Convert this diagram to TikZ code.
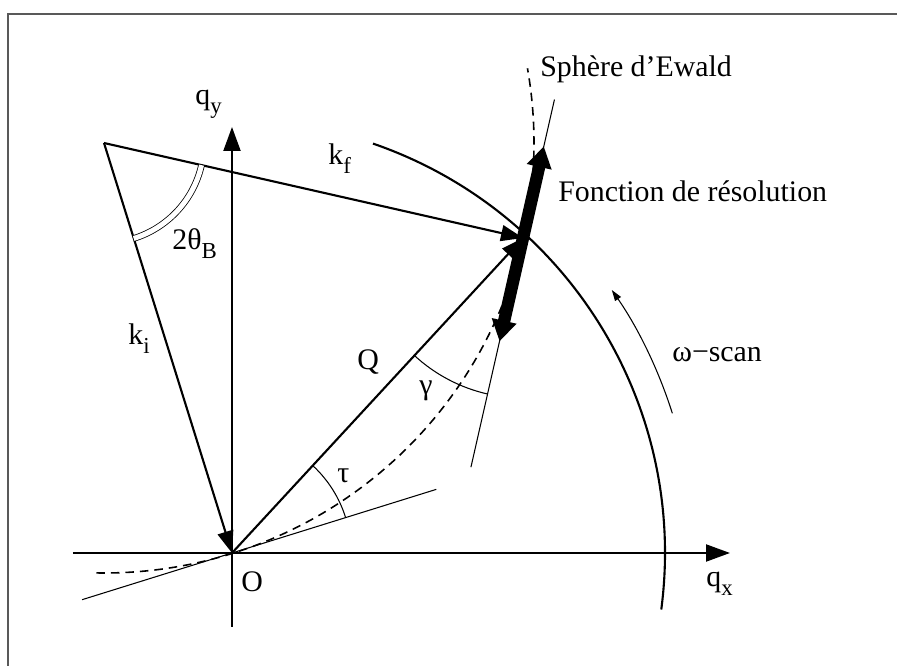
\documentclass[tikz,border=0pt]{standalone}
\usepackage{fontspec}
\setmainfont{Liberation Serif}
\usetikzlibrary{arrows.meta, calc}
\newcommand{\sbs}[1]{\raisebox{-0.28em}{\fontsize{13}{13}\selectfont #1}}

\begin{document}
\begin{tikzpicture}[
    x=0.02cm, y=0.02cm,
    axis/.style={line width=1.2pt, -{Triangle[length=0.48cm,width=0.34cm]}},
    vec/.style={line width=1.2pt, -{Triangle[length=0.44cm,width=0.32cm]}},
    thinline/.style={line width=0.6pt},
    lbl/.style={inner sep=0pt, font=\fontsize{17}{20}\selectfont}
  ]
    \useasboundingbox (-232,-113) rectangle (665,553);
    % frame (top and left only)
    \draw[gray!70!black, line width=1.2pt] (665,539) -- (-224,539) -- (-224,-113);

    % points
    \coordinate (O) at (0,0);
    \coordinate (C) at (-128,410);
    \coordinate (P) at (291,315);
    \coordinate (qxs) at (-159,0);
    \coordinate (qxe) at (498,0);
    \coordinate (qys) at (0,-74);
    \coordinate (qye) at (0,426);

    % axes
    \draw[axis] (qxs) -- (qxe);
    \draw[axis] (qys) -- (qye);

    % big circle |Q| and omega-scan
    \draw[line width=1.2pt] (O) ++(-7.5:433) arc[start angle=-7.5, end angle=71, radius=433];
    \draw[thinline, -{Triangle[length=0.22cm,width=0.14cm]}]
      (O) ++(17.6:462) arc[start angle=17.6, end angle=34.7, radius=462];

    % Ewald sphere
    \draw[line width=0.9pt, dash pattern=on 0.17cm off 0.12cm]
      (C) ++(-91:430) arc[start angle=-91, end angle=10, radius=430];

    % tangents at O and P
    \draw[thinline] (O) ++(197.3:157) -- ($(O)+(17.3:214)$);
    \draw[thinline] (P) ++(257.2:235) -- ($(P)+(77.2:142)$);

    % vectors
    \draw[vec] (C) -- (O);
    \draw[vec] (C) -- (P);
    \draw[vec] (O) -- (P);

    % angles
    \draw[thinline] (O) ++(17.3:119) arc[start angle=17.3, end angle=47.3, radius=119];
    \draw[thinline] (P) ++(227.3:160) arc[start angle=227.3, end angle=257.2, radius=160];
    \draw[line width=0.45pt, double, double distance=0.1cm]
      (C) ++(-12.8:100) arc[start angle=-12.8, end angle=-72.7, radius=100];

    % resolution function
    \coordinate (rlo) at ($(P)+(257.2:106)$);
    \coordinate (rhi) at ($(P)+(77.2:94)$);
    \draw[line width=7pt, {Triangle[length=0.42cm,width=0.48cm]}-{Triangle[length=0.42cm,width=0.48cm]}]
      (rlo) -- (rhi);

    % labels
    \node[lbl, anchor=base west] (lqx) at (474,-34) {q\sbs{x}};
    \node[lbl, anchor=base west] (lqy) at (-37,448) {q\sbs{y}};
    \node[lbl, anchor=base west] (lO) at (9,-39) {O};
    \node[lbl, anchor=base west] (lkf) at (96,388) {k\sbs{f}};
    \node[lbl, anchor=base west] (lki) at (-104,208) {k\sbs{i}};
    \node[lbl, anchor=base west] (lth) at (-60,303) {2θ\sbs{B}};
    \node[lbl, anchor=base west] (lQ) at (125,183) {Q};
    \node[lbl] (lga) at (194,162) {γ};
    \node[lbl, anchor=base west] (lta) at (105,70) {τ};
    \node[lbl, anchor=base west] (lsc) at (440,191) {ω−scan};
    \node[lbl, anchor=base west] (lres) at (326,351) {Fonction de résolution};
    \node[lbl, anchor=base west] (lew) at (308,476) {Sphère d’Ewald};
  \end{tikzpicture}
\end{document}
